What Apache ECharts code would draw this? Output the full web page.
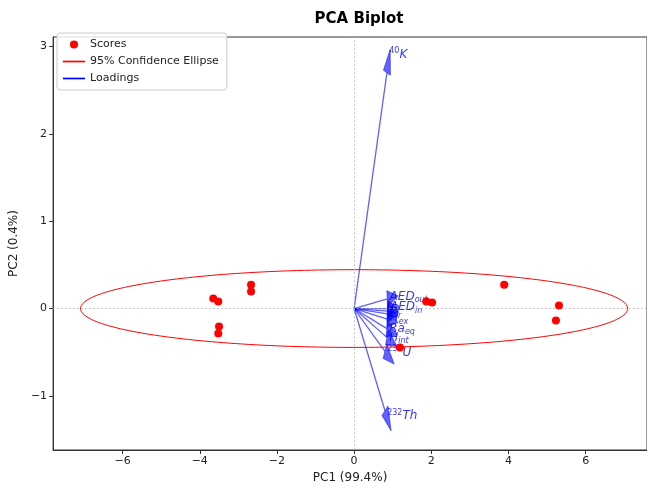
<!DOCTYPE html>
<html><head><meta charset="utf-8">
<script src="https://cdn.jsdelivr.net/npm/echarts@6/dist/echarts.min.js"></script>
<style>html,body{margin:0;padding:0;background:#fff}#c{width:647px;height:489px}</style>
</head><body><div id="c"></div>
<script>
// Scores (PC1, PC2)
const scoresX = [-3.65, -3.52, -2.67, -2.67, -3.50, -3.52, 1.87, 2.02, 3.89, 5.31, 5.23, 1.19];
const scoresY = [0.114, 0.08, 0.274, 0.194, -0.205, -0.285, 0.08, 0.068, 0.274, 0.034, -0.137, -0.445];

// Loadings (arrow end = head base, head extends beyond)
const loadLabels = ['{sup|40}{i|K}', '{i|AED}{sub|out}', '{i|AED}{sub|in}', '{i|D}', '{i|I}{sub|γr}',
                    '{i|H}{sub|ex}', '{i|Ra}{sub|eq}', '{i|H}{sub|int}', '{sup|238}{i|U}', '{sup|232}{i|Th}'];
const loadX = [0.85, 0.86, 0.87, 0.88, 0.86, 0.86, 0.85, 0.85, 0.80, 0.80];
const loadY = [2.70, 0.11, 0.00, -0.03, -0.06, -0.12, -0.23, -0.33, -0.49, -1.17];

// 95% confidence ellipse parameters
const ellipseCenter = [0, 0];
const ellipseSemiAxes = [7.09, 0.445];

const xTicks = [-6, -4, -2, 0, 2, 4, 6];
const yTicks = [-1, 0, 1, 2, 3];

const HEAD_W = 0.19, HEAD_L = 0.28, LABEL_SCALE = 1.07;
const arrowColor = 'rgba(0,0,255,0.62)';
const labelColor = 'rgba(0,0,255,0.8)';

const ellipsePts = [];
for (let i = 0; i <= 240; i++) {
  const t = i / 240 * Math.PI * 2;
  ellipsePts.push([ellipseCenter[0] + ellipseSemiAxes[0] * Math.cos(t), ellipseCenter[1] + ellipseSemiAxes[1] * Math.sin(t)]);
}
const scoresData = scoresX.map((x, i) => [x, scoresY[i]]);
const loadData = loadX.map((x, i) => [x, loadY[i], i]);

const fmt = v => String(v).replace('-', '\u2212');
const FONT = 'DejaVu Sans';

const chart = echarts.init(document.getElementById('c'), null, {renderer: 'canvas'});
chart.setOption({
  animation: false,
  title: {text: 'PCA Biplot', left: 354, top: 7, textAlign: 'center',
    textStyle: {fontFamily: FONT, fontWeight: 'bold', fontSize: 15, color: '#000'}},
  grid: {left: 53, right: 0, top: 37, bottom: 37, show: true, borderColor: '#333', borderWidth: 1, backgroundColor: 'transparent'},
  legend: {
    orient: 'vertical', left: 57, top: 33,
    data: [
      {name: 'Scores', icon: 'circle', itemStyle: {color: '#ff0000'}},
      {name: '95% Confidence Ellipse', icon: 'path://M0,0H26V2H0Z', itemStyle: {color: '#ff0000'}},
      {name: 'Loadings', icon: 'path://M0,0H26V2H0Z', itemStyle: {color: '#0000ff'}}
    ],
    itemWidth: 22, itemHeight: 8, itemGap: 6,
    textStyle: {fontFamily: FONT, fontSize: 11, color: '#222'},
    borderColor: '#ccc', borderWidth: 1, borderRadius: 3, padding: [6, 8, 6, 6],
    backgroundColor: 'rgba(255,255,255,0.85)'
  },
  xAxis: {
    type: 'value', min: -7.8, max: 7.59,
    name: 'PC1 (99.4%)', nameLocation: 'middle', nameGap: 22,
    nameTextStyle: {fontFamily: FONT, fontSize: 12, color: '#222'},
    axisLine: {show: true, onZero: false, lineStyle: {color: '#333'}},
    axisTick: {show: true, length: 4, customValues: xTicks, lineStyle: {color: '#333'}},
    axisLabel: {customValues: xTicks, formatter: fmt, fontFamily: FONT, fontSize: 11, color: '#222', margin: 6},
    splitLine: {show: false}
  },
  yAxis: {
    type: 'value', min: -1.62, max: 3.11,
    name: 'PC2 (0.4%)', nameLocation: 'middle', nameGap: 28, nameRotate: 90,
    nameTextStyle: {fontFamily: FONT, fontSize: 12, color: '#222'},
    axisLine: {show: true, onZero: false, lineStyle: {color: '#333'}},
    axisTick: {show: true, length: 4, customValues: yTicks, lineStyle: {color: '#333'}},
    axisLabel: {customValues: yTicks, formatter: fmt, fontFamily: FONT, fontSize: 11, color: '#222', margin: 6},
    splitLine: {show: false}
  },
  series: [
    {
      name: 'zero', type: 'line', data: [], silent: true,
      markLine: {silent: true, symbol: 'none', label: {show: false},
        lineStyle: {type: [1.5, 2.5], color: '#b5b5b5', width: 1},
        data: [{xAxis: 0}, {yAxis: 0}]}
    },
    {
      name: 'Loadings', type: 'custom', z: 3, data: loadData,
      itemStyle: {color: '#0000ff'},
      renderItem: function (params, api) {
        const x = api.value(0), y = api.value(1), idx = api.value(2);
        const n = Math.hypot(x, y), ux = x / n, uy = y / n;
        const tip = [x + ux * HEAD_L, y + uy * HEAD_L];
        const b1 = [x - uy * HEAD_W / 2, y + ux * HEAD_W / 2];
        const b2 = [x + uy * HEAD_W / 2, y - ux * HEAD_W / 2];
        const o = api.coord([0, 0]), e = api.coord([x, y]);
        const lp = api.coord([x * LABEL_SCALE, y * LABEL_SCALE]);
        return {
          type: 'group', children: [
            {type: 'line', shape: {x1: o[0], y1: o[1], x2: e[0], y2: e[1]}, style: {stroke: arrowColor, lineWidth: 1.3}},
            {type: 'polygon', shape: {points: [api.coord(b1), api.coord(tip), api.coord(b2)]},
              style: {fill: arrowColor, stroke: arrowColor, lineWidth: 0.8}},
            {type: 'text', z2: 10, style: {
              text: loadLabels[idx], x: lp[0], y: lp[1] + 6, align: 'left', verticalAlign: 'bottom',
              fill: labelColor,
              rich: {
                i: {fontFamily: FONT, fontStyle: 'italic', fontSize: 12, lineHeight: 15, fill: labelColor, verticalAlign: 'middle'},
                sup: {fontFamily: FONT, fontSize: 8, lineHeight: 9, fill: labelColor, verticalAlign: 'top'},
                sub: {fontFamily: FONT, fontStyle: 'italic', fontSize: 8, lineHeight: 8, fill: labelColor, verticalAlign: 'bottom'}
              }
            }}
          ]
        };
      }
    },
    {
      name: '95% Confidence Ellipse', type: 'line', z: 4, data: ellipsePts, showSymbol: false, symbol: 'none',
      smooth: false, lineStyle: {color: '#ff0000', width: 1}, itemStyle: {color: '#ff0000'}, silent: true
    },
    {
      name: 'Scores', type: 'scatter', z: 5, data: scoresData, symbolSize: 8,
      itemStyle: {color: '#ff0000', opacity: 1}
    }
  ]
});
</script>
</body></html>
